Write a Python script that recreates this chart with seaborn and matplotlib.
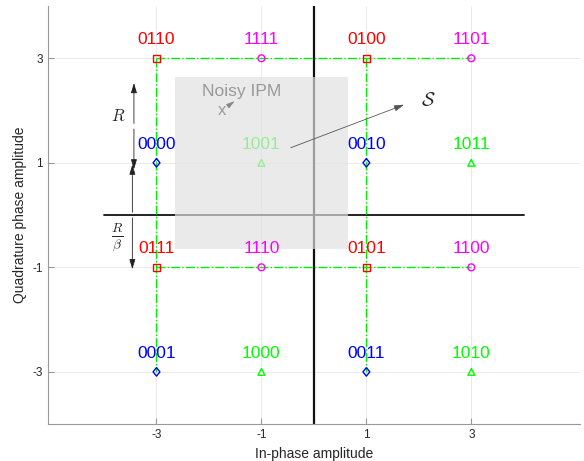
import matplotlib
matplotlib.use("Agg")
import matplotlib.pyplot as plt
import seaborn as sns
import pandas as pd
from matplotlib.patches import Rectangle

# ---- data ----
in_phase = [-3, -1, 1, 3, -3, -1, 1, 3, -3, -1, 1, 3, -3, -1, 1, 3]
quadrature = [3, 3, 3, 3, 1, 1, 1, 1, -1, -1, -1, -1, -3, -3, -3, -3]
bit_labels = ["0110", "1111", "0100", "1101",
              "0000", "1001", "0010", "1011",
              "0111", "1110", "0101", "1100",
              "0001", "1000", "0011", "1010"]
groups = [b[:2] for b in bit_labels]
group_colors = {"01": "#ff0000", "11": "#ff00ff", "00": "#0000ff", "10": "#00ff00"}
diamond = [(0, 1), (0.8, 0), (0, -1), (-0.8, 0), (0, 1)]
group_markers = {"01": "s", "11": "o", "00": diamond, "10": "^"}
group_sizes = {"01": 24, "11": 24, "00": 38, "10": 24}

# green dash-dot boundary paths
path_h1_x = [-3, 3]; path_h1_y = [3, 3]
path_h2_x = [-3, 3]; path_h2_y = [-1, -1]
path_v1_x = [-3, -3]; path_v1_y = [3, -3]
path_v2_x = [1, 1]; path_v2_y = [3, -3]

tick_vals = [-3, -1, 1, 3]

df = pd.DataFrame({"I": in_phase, "Q": quadrature, "bits": bit_labels, "group": groups})

sns.set_style("white")
plt.rcParams["font.family"] = ["Liberation Sans", "DejaVu Sans"]
plt.rcParams["mathtext.fontset"] = "cm"
plt.rcParams["axes.unicode_minus"] = False

fig = plt.figure(figsize=(5.84, 4.61), dpi=100)
ax = fig.add_axes([0.082, 0.080, 0.911, 0.907])

ax.set_xlim(-5.07, 5.07)
ax.set_ylim(-4, 4)
ax.set_xticks(tick_vals)
ax.set_yticks(tick_vals)
ax.grid(True, color="#e8e8e8", lw=0.6, zorder=0)
ax.set_axisbelow(True)

# axis cross lines
ax.plot([0, 0], [-4, 4], color="#111111", lw=1.6, zorder=1)
ax.plot([-4, 4], [0, 0], color="#111111", lw=1.3, zorder=1)

# dash-dot lines
for px_, py_ in [(path_h1_x, path_h1_y), (path_h2_x, path_h2_y),
                 (path_v1_x, path_v1_y), (path_v2_x, path_v2_y)]:
    ax.plot(px_, py_, color="#00ee00", lw=1.0, ls="-.", zorder=2)

sns.scatterplot(data=df, x="I", y="Q", hue="group", style="group",
                palette=group_colors, markers=group_markers, s=24,
                legend=False, ax=ax, zorder=3, linewidth=1.0)
for coll in ax.collections:
    fc = coll.get_facecolors()
    coll.set_edgecolors(fc)
    coll.set_facecolors("none")
    coll.set_linewidths(1.0)
    if len(coll.get_offsets()) == len(groups):
        coll.set_sizes([group_sizes[g] for g in groups])

# noisy region box
ax.add_patch(Rectangle((-2.65, -0.65), 3.3, 3.3, facecolor="#e1e1e1",
                       alpha=0.68, edgecolor="none", zorder=4))

for xi, yi, b, g in zip(in_phase, quadrature, bit_labels, groups):
    z = 3.5 if b == "1001" else 5
    ax.text(xi, yi + 0.27, b, color=group_colors[g], ha="center", va="baseline",
            fontsize=12.5, zorder=z)

# annotations
arrow_kw = dict(arrowstyle="-|>,head_length=0.6,head_width=0.18", color="#222222", lw=0.6)
ax.annotate("", xy=(-3.43, 2.58), xytext=(-3.43, 1.7), arrowprops=arrow_kw, zorder=6)
ax.annotate("", xy=(-3.43, 0.82), xytext=(-3.43, 1.7), arrowprops=arrow_kw, zorder=6)
ax.annotate("", xy=(-3.46, 1.02), xytext=(-3.46, 0.0), arrowprops=arrow_kw, zorder=6)
ax.annotate("", xy=(-3.46, -1.09), xytext=(-3.46, 0.0), arrowprops=arrow_kw, zorder=6)
ax.text(-3.73, 1.89, r"$R$", fontsize=12, ha="center", va="center", zorder=6)
ax.text(-3.75, -0.44, r"$\frac{R}{\beta}$", fontsize=14, ha="center", va="center", zorder=6)

ax.text(-1.38, 2.36, "Noisy IPM", color="#999999", fontsize=12.5, ha="center", va="center", zorder=6)
ax.text(-1.76, 2.0, "x", color="#999999", fontsize=12, ha="center", va="center", zorder=6)
ax.annotate("", xy=(-1.47, 2.21), xytext=(-1.66, 2.07),
            arrowprops=dict(arrowstyle="-|>,head_length=0.5,head_width=0.15", color="#888888", lw=0.6), zorder=6)
ax.annotate("", xy=(1.77, 2.13), xytext=(-0.49, 1.27),
            arrowprops=dict(arrowstyle="-|>,head_length=0.6,head_width=0.18", color="#555555", lw=0.6), zorder=6)
ax.text(2.17, 2.18, r"$\mathcal{S}$", fontsize=14, ha="center", va="center", zorder=6)

ax.set_xlabel("In-phase amplitude", fontsize=10, color="#262626")
ax.set_ylabel("Quadrature phase amplitude", fontsize=10, color="#262626")
ax.tick_params(direction="in", length=4, labelsize=8.5, colors="#262626",
               left=True, bottom=True)
for side in ["top", "right"]:
    ax.spines[side].set_visible(False)
for side in ["left", "bottom"]:
    ax.spines[side].set_color("#999999")
    ax.spines[side].set_linewidth(0.8)
ax.tick_params(axis="both", which="both", color="#999999")

fig.savefig("out.png", dpi=100)
